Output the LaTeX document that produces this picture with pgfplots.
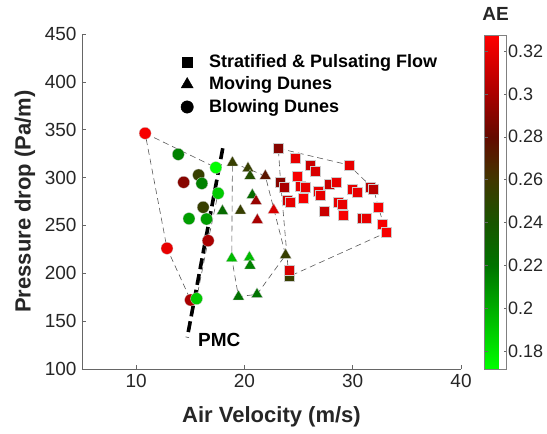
\documentclass[border=0pt]{standalone}
\usepackage{pgfplots}
\pgfplotsset{compat=1.18}
\usepackage{fontspec}
\setmainfont{Liberation Sans}
\pgfplotsset{/pgf/number format/assume math mode=true}

\pgfplotstableread{
x y c
10.83 346.3 0.325
13.89 324.3 0.215
17.36 310.4 0.172
15.77 302.7 0.255
14.39 295.1 0.29
16.07 293.9 0.215
17.57 283.6 0.19
16.19 269.0 0.255
14.88 257.1 0.205
16.50 256.7 0.205
12.85 226.1 0.32
16.65 234.1 0.30
15.03 172.1 0.30
15.58 173.5 0.19
}\circles

\pgfplotstableread{
x y c
18.89 315.6 0.255
20.33 309.7 0.255
20.52 301.7 0.245
21.93 301.7 0.275
20.73 281.8 0.225
21.07 275.5 0.295
17.97 265.1 0.225
19.63 265.4 0.255
22.70 266.1 0.315
21.19 255.7 0.30
18.83 215.6 0.195
20.46 216.6 0.195
20.52 208.0 0.215
23.80 219.1 0.255
19.45 175.6 0.22
21.16 178.0 0.22
}\triangles

\pgfplotstableread{
x y c
23.13 330.6 0.29
24.66 320.8 0.32
26.04 313.2 0.31
26.56 306.2 0.315
29.63 313.2 0.32
24.87 301.3 0.325
23.34 295.1 0.29
23.65 289.5 0.30
25.12 290.6 0.32
25.64 289.9 0.32
27.85 293.3 0.31
28.43 295.1 0.32
26.81 285.3 0.32
27.02 281.8 0.32
29.94 288.1 0.32
30.40 284.6 0.32
31.62 289.9 0.305
31.93 288.1 0.305
23.96 276.6 0.31
24.20 274.2 0.32
25.43 279.0 0.325
28.65 274.8 0.32
29.04 272.7 0.32
27.32 265.1 0.31
29.16 261.2 0.325
32.38 268.6 0.325
30.85 257.8 0.31
31.25 257.8 0.32
32.72 251.5 0.325
33.09 242.5 0.325
24.10 196.5 0.255
24.14 203.4 0.315
}\squares

\begin{document}
\begin{tikzpicture}
\useasboundingbox (-82bp,-65bp) rectangle (465bp,369bp);
\begin{axis}[
  scale only axis, width=379bp, height=335bp,
  xmin=5, xmax=40, ymin=100, ymax=450,
  xtick={10,20,30,40}, ytick={100,150,200,250,300,350,400,450},
  axis x line*=bottom, axis y line*=left,
  axis line style={-, draw=black!60, line width=0.6bp},
  tick style={draw=black!60, line width=0.6bp},
  major tick length=4bp, tick align=inside,
  ticklabel style={font=\fontsize{19bp}{22bp}\selectfont, text=black!85},
  xticklabel style={yshift=-2bp},
  yticklabel style={xshift=-2bp},
  xlabel={Air Velocity (m/s)}, ylabel={Pressure drop (Pa/m)},
  every axis x label/.style={at={(axis description cs:0.5,0)}, anchor=center, yshift=-48bp},
  every axis y label/.style={at={(axis description cs:0,0.5)}, xshift=-57bp, anchor=center, rotate=90},
  label style={font=\fontsize{22bp}{25bp}\selectfont\bfseries, text=black!85},
  colormap={ae}{rgb255(0cm)=(0,255,0); rgb255(3.1cm)=(0,115,0); rgb255(4.4cm)=(25,85,0); rgb255(5.67cm)=(65,55,0); rgb255(6.95cm)=(100,10,0); rgb255(8.24cm)=(170,0,0); rgb255(10cm)=(255,0,0)},
  point meta min=0.1716, point meta max=0.3275,
  colorbar,
  colorbar style={
    at={(parent axis.north east)}, anchor=north west, xshift=15bp, yshift=-1bp,
    scale only axis, width=22bp, height=334bp,
    ytick={0.18,0.2,0.22,0.24,0.26,0.28,0.3,0.32},
    yticklabel style={font=\fontsize{18bp}{21bp}\selectfont, text=black!85, xshift=-2bp, /pgf/number format/fixed, /pgf/number format/precision=2},
    axis line style={draw=black!50, line width=0.6bp},
    major tick length=3bp, tick style={draw=black!60, line width=0.5bp},
    title={AE},
    title style={font=\fontsize{19bp}{22bp}\selectfont\bfseries, text=black!85, at={(0.5,1)}, anchor=base, yshift=9bp},
  },
  legend style={draw=none, fill=none, inner sep=0pt, outer sep=0pt,
    at={(axis description cs:0.2612,0.9418)}, anchor=north west,
    font=\fontsize{18bp}{21bp}\selectfont\bfseries, text=black,
    nodes={inner ysep=0pt, text height=14bp, text depth=3bp}, row sep=5.5bp},
  legend cell align=left,
  legend image code/.code={\draw[#1] plot coordinates {(0bp,0bp)}; \path[draw=none,fill=none] (-6bp,-1bp) (20bp,1bp);},
  hull/.style={draw=black!65, line width=0.6bp, dash pattern=on 6bp off 4bp, forget plot},
]
\addlegendimage{only marks, mark=square*, mark size=5.2bp, black}
\addlegendentry{Stratified \& Pulsating Flow}
\addlegendimage{only marks, mark=triangle*, mark size=7bp, black}
\addlegendentry{Moving Dunes}
\addlegendimage{only marks, mark=*, mark size=6.2bp, black}
\addlegendentry{Blowing Dunes}

% hulls
\addplot[hull] coordinates {(10.83,346.3) (17.36,310.4) (17.57,283.6) (16.65,234.1) (15.58,173.5) (15.03,172.1) (12.85,226.1) (10.83,346.3)};
\addplot[hull] coordinates {(18.89,315.6) (21.93,301.7) (23.80,219.1) (21.16,178.0) (19.45,175.6) (18.83,215.6) (18.89,315.6)};
\addplot[hull] coordinates {(23.13,330.6) (29.63,313.2) (31.93,288.1) (32.38,268.6) (33.09,242.5) (24.10,196.5) (23.34,295.1) (23.13,330.6)};

% scatter groups
\addplot[scatter, only marks, mark=*, mark size=6bp, scatter src=explicit, forget plot,
  scatter/use mapped color={draw=black!20, fill=mapped color}, line width=0.3bp] table[meta=c] {\circles};
\addplot[scatter, only marks, mark=triangle*, mark size=6.6bp, scatter src=explicit, forget plot,
  scatter/use mapped color={draw=black!20, fill=mapped color}, line width=0.3bp] table[meta=c] {\triangles};
\addplot[scatter, only marks, mark=square*, mark size=5bp, scatter src=explicit, forget plot,
  scatter/use mapped color={draw=black!20, fill=mapped color}, line width=0.3bp] table[meta=c] {\squares};

% PMC line
\addplot[black, line width=3.6bp, dash pattern=on 11bp off 5bp, forget plot] coordinates {(18.00,330.6) (14.72,133.0)};
\node[font=\fontsize{19bp}{22bp}\selectfont\bfseries, anchor=west] at (axis cs:15.4,130) {PMC};
\end{axis}
\end{tikzpicture}
\end{document}
